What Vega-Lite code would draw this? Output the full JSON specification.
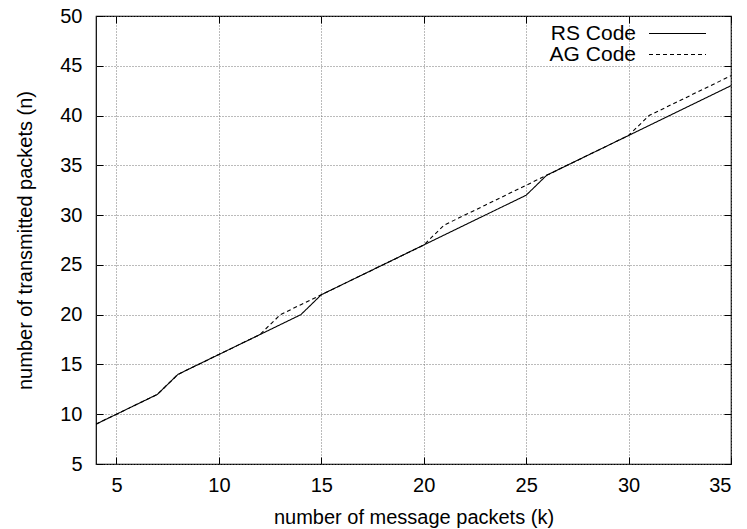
{
  "$schema": "https://vega.github.io/schema/vega-lite/v6.json",
  "width": 635,
  "height": 448,
  "autosize": "none",
  "padding": {"left": 96, "top": 16, "right": 16, "bottom": 65},
  "background": "white",
  "config": {
    "font": "Liberation Sans",
    "view": {"stroke": "black", "strokeWidth": 1.2},
    "axis": {
      "labelFont": "Liberation Sans",
      "titleFont": "Liberation Sans",
      "labelFontSize": 20,
      "titleFontSize": 20,
      "titleFontWeight": "normal",
      "labelColor": "black",
      "titleColor": "black",
      "domainColor": "black",
      "tickColor": "black",
      "gridColor": "#777777",
      "gridDash": [1, 2],
      "gridWidth": 1,
      "gridOpacity": 1,
      "tickSize": -7,
      "tickWidth": 1,
      "domain": false
    }
  },
  "data": {
    "values": [
      {"k": 4, "n": 9, "code": "RS Code"},
      {"k": 5, "n": 10, "code": "RS Code"},
      {"k": 6, "n": 11, "code": "RS Code"},
      {"k": 7, "n": 12, "code": "RS Code"},
      {"k": 8, "n": 14, "code": "RS Code"},
      {"k": 9, "n": 15, "code": "RS Code"},
      {"k": 10, "n": 16, "code": "RS Code"},
      {"k": 11, "n": 17, "code": "RS Code"},
      {"k": 12, "n": 18, "code": "RS Code"},
      {"k": 13, "n": 19, "code": "RS Code"},
      {"k": 14, "n": 20, "code": "RS Code"},
      {"k": 15, "n": 22, "code": "RS Code"},
      {"k": 16, "n": 23, "code": "RS Code"},
      {"k": 17, "n": 24, "code": "RS Code"},
      {"k": 18, "n": 25, "code": "RS Code"},
      {"k": 19, "n": 26, "code": "RS Code"},
      {"k": 20, "n": 27, "code": "RS Code"},
      {"k": 21, "n": 28, "code": "RS Code"},
      {"k": 22, "n": 29, "code": "RS Code"},
      {"k": 23, "n": 30, "code": "RS Code"},
      {"k": 24, "n": 31, "code": "RS Code"},
      {"k": 25, "n": 32, "code": "RS Code"},
      {"k": 26, "n": 34, "code": "RS Code"},
      {"k": 27, "n": 35, "code": "RS Code"},
      {"k": 28, "n": 36, "code": "RS Code"},
      {"k": 29, "n": 37, "code": "RS Code"},
      {"k": 30, "n": 38, "code": "RS Code"},
      {"k": 31, "n": 39, "code": "RS Code"},
      {"k": 32, "n": 40, "code": "RS Code"},
      {"k": 33, "n": 41, "code": "RS Code"},
      {"k": 34, "n": 42, "code": "RS Code"},
      {"k": 35, "n": 43, "code": "RS Code"},
      {"k": 4, "n": 9, "code": "AG Code"},
      {"k": 5, "n": 10, "code": "AG Code"},
      {"k": 6, "n": 11, "code": "AG Code"},
      {"k": 7, "n": 12, "code": "AG Code"},
      {"k": 8, "n": 14, "code": "AG Code"},
      {"k": 9, "n": 15, "code": "AG Code"},
      {"k": 10, "n": 16, "code": "AG Code"},
      {"k": 11, "n": 17, "code": "AG Code"},
      {"k": 12, "n": 18, "code": "AG Code"},
      {"k": 13, "n": 20, "code": "AG Code"},
      {"k": 14, "n": 21, "code": "AG Code"},
      {"k": 15, "n": 22, "code": "AG Code"},
      {"k": 16, "n": 23, "code": "AG Code"},
      {"k": 17, "n": 24, "code": "AG Code"},
      {"k": 18, "n": 25, "code": "AG Code"},
      {"k": 19, "n": 26, "code": "AG Code"},
      {"k": 20, "n": 27, "code": "AG Code"},
      {"k": 21, "n": 29, "code": "AG Code"},
      {"k": 22, "n": 30, "code": "AG Code"},
      {"k": 23, "n": 31, "code": "AG Code"},
      {"k": 24, "n": 32, "code": "AG Code"},
      {"k": 25, "n": 33, "code": "AG Code"},
      {"k": 26, "n": 34, "code": "AG Code"},
      {"k": 27, "n": 35, "code": "AG Code"},
      {"k": 28, "n": 36, "code": "AG Code"},
      {"k": 29, "n": 37, "code": "AG Code"},
      {"k": 30, "n": 38, "code": "AG Code"},
      {"k": 31, "n": 40, "code": "AG Code"},
      {"k": 32, "n": 41, "code": "AG Code"},
      {"k": 33, "n": 42, "code": "AG Code"},
      {"k": 34, "n": 43, "code": "AG Code"},
      {"k": 35, "n": 44, "code": "AG Code"}
    ]
  },
  "resolve": {"axis": {"x": "independent", "y": "independent"}},
  "layer": [
    {
      "mark": {"type": "line", "strokeWidth": 1.1, "clip": true},
      "encoding": {
        "x": {
          "field": "k",
          "type": "quantitative",
          "scale": {"domain": [4, 35], "nice": false, "zero": false},
          "axis": {
            "values": [5, 10, 15, 20, 25, 30, 35],
            "title": "number of message packets (k)",
            "labelPadding": 18,
            "titlePadding": 12
          }
        },
        "y": {
          "field": "n",
          "type": "quantitative",
          "scale": {"domain": [5, 50], "nice": false, "zero": false},
          "axis": {
            "values": [5, 10, 15, 20, 25, 30, 35, 40, 45, 50],
            "title": "number of transmitted packets (n)",
            "labelPadding": 21,
            "titlePadding": 24
          }
        },
        "color": {
          "field": "code",
          "type": "nominal",
          "sort": ["RS Code", "AG Code"],
          "scale": {"domain": ["RS Code", "AG Code"], "range": ["black", "black"]},
          "legend": {
            "title": null,
            "orient": "none",
            "legendX": 571,
            "legendY": 7,
            "padding": 0,
            "symbolType": "M-3,0H3",
            "symbolSize": 361,
            "symbolStrokeWidth": 1.1,
            "labelAlign": "right",
            "labelOffset": -52,
            "labelFontSize": 21,
            "labelFont": "Liberation Sans",
            "labelColor": "black",
            "rowPadding": -2,
            "fillColor": "white"
          }
        },
        "strokeDash": {
          "field": "code",
          "type": "nominal",
          "sort": ["RS Code", "AG Code"],
          "scale": {"domain": ["RS Code", "AG Code"], "range": [[1, 0], [4, 3]]},
          "legend": {
            "title": null,
            "orient": "none",
            "legendX": 571,
            "legendY": 7,
            "padding": 0,
            "symbolType": "M-3,0H3",
            "symbolSize": 361,
            "symbolStrokeWidth": 1.1,
            "labelAlign": "right",
            "labelOffset": -52,
            "labelFontSize": 21,
            "labelFont": "Liberation Sans",
            "labelColor": "black",
            "rowPadding": -2,
            "fillColor": "white"
          }
        }
      }
    },
    {
      "mark": {"type": "point", "opacity": 0},
      "encoding": {
        "x": {
          "field": "k",
          "type": "quantitative",
          "scale": {"domain": [4, 35], "nice": false, "zero": false},
          "axis": {"orient": "top", "values": [5, 10, 15, 20, 25, 30, 35], "labels": false, "grid": false, "title": null}
        },
        "y": {
          "field": "n",
          "type": "quantitative",
          "scale": {"domain": [5, 50], "nice": false, "zero": false},
          "axis": {"orient": "right", "values": [5, 10, 15, 20, 25, 30, 35, 40, 45, 50], "labels": false, "grid": false, "title": null}
        }
      }
    }
  ]
}
